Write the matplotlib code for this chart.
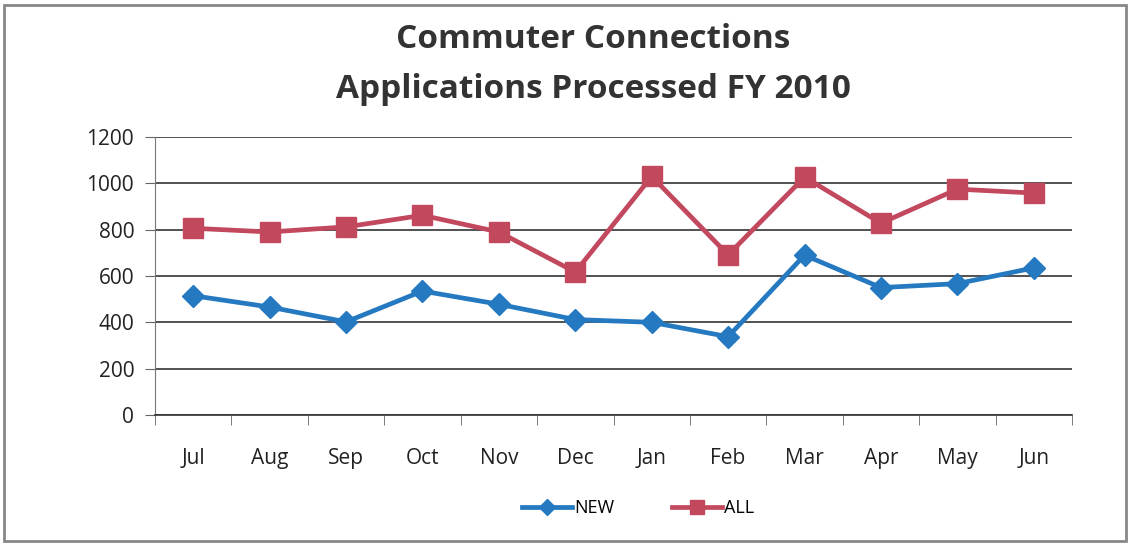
import matplotlib.pyplot as plt
from matplotlib.patches import Rectangle

months = ["Jul", "Aug", "Sep", "Oct", "Nov", "Dec", "Jan", "Feb", "Mar", "Apr", "May", "Jun"]
new_apps = [515, 466, 402, 535, 478, 412, 400, 338, 690, 550, 567, 635]
all_apps = [806, 790, 812, 862, 790, 617, 1030, 691, 1027, 828, 975, 958]
y_ticks = [0, 200, 400, 600, 800, 1000, 1200]

BLUE = "#2479c0"
RED = "#c2485e"

plt.rcParams["font.family"] = ["Open Sans", "DejaVu Sans"]

fig = plt.figure(figsize=(11.3, 5.46), dpi=100)
ax = fig.add_axes([155 / 1130, 1 - 415 / 546, (1072 - 155) / 1130, (415 - 137) / 546])

x = list(range(len(months)))
ax.plot(x, new_apps, color=BLUE, lw=3.4, marker="D", ms=11, label="NEW", zorder=3)
ax.plot(x, all_apps, color=RED, lw=3.4, marker="s", ms=14, label="ALL", zorder=3)

ax.set_xlim(-0.5, len(months) - 0.5)
ax.set_ylim(0, 1200)
ax.set_yticks(y_ticks)
ax.set_yticklabels([str(v) for v in y_ticks], fontsize=15, color="#222222")
ax.set_xticks(x)
ax.set_xticklabels(months, fontsize=15, color="#222222")
ax.tick_params(axis="x", length=0, pad=24)
ax.set_xticks([i - 0.5 for i in range(len(months) + 1)], minor=True)
ax.tick_params(axis="x", which="minor", length=7, direction="out", color="#666666")
ax.tick_params(axis="y", length=7, color="#666666", pad=8)
ax.grid(axis="y", color="#222222", lw=1.1)
ax.set_axisbelow(True)
for s in ["top", "right"]:
    ax.spines[s].set_visible(False)
ax.spines["left"].set_color("#777777")
ax.spines["bottom"].set_color("#333333")
ax.spines["bottom"].set_linewidth(1.2)

fig.text(593 / 1130, 1 - 40 / 546, "Commuter Connections", ha="center", va="center",
         fontsize=24, fontweight="bold", color="#333333")
fig.text(593 / 1130, 1 - 90 / 546, "Applications Processed FY 2010", ha="center", va="center",
         fontsize=24, fontweight="bold", color="#333333")

fig.legend(loc="center", bbox_to_anchor=(638 / 1130, 1 - 508 / 546), ncol=2, frameon=False,
           fontsize=13, handlelength=2.8, handletextpad=0.1, columnspacing=3.2,
           markerscale=0.7)

fig.patches.append(Rectangle((4 / 1130, 5 / 546), 1122 / 1130, 536 / 546, transform=fig.transFigure,
                             fill=False, ec="#888888", lw=2))

fig.savefig("out.png", dpi=100, facecolor="white")
